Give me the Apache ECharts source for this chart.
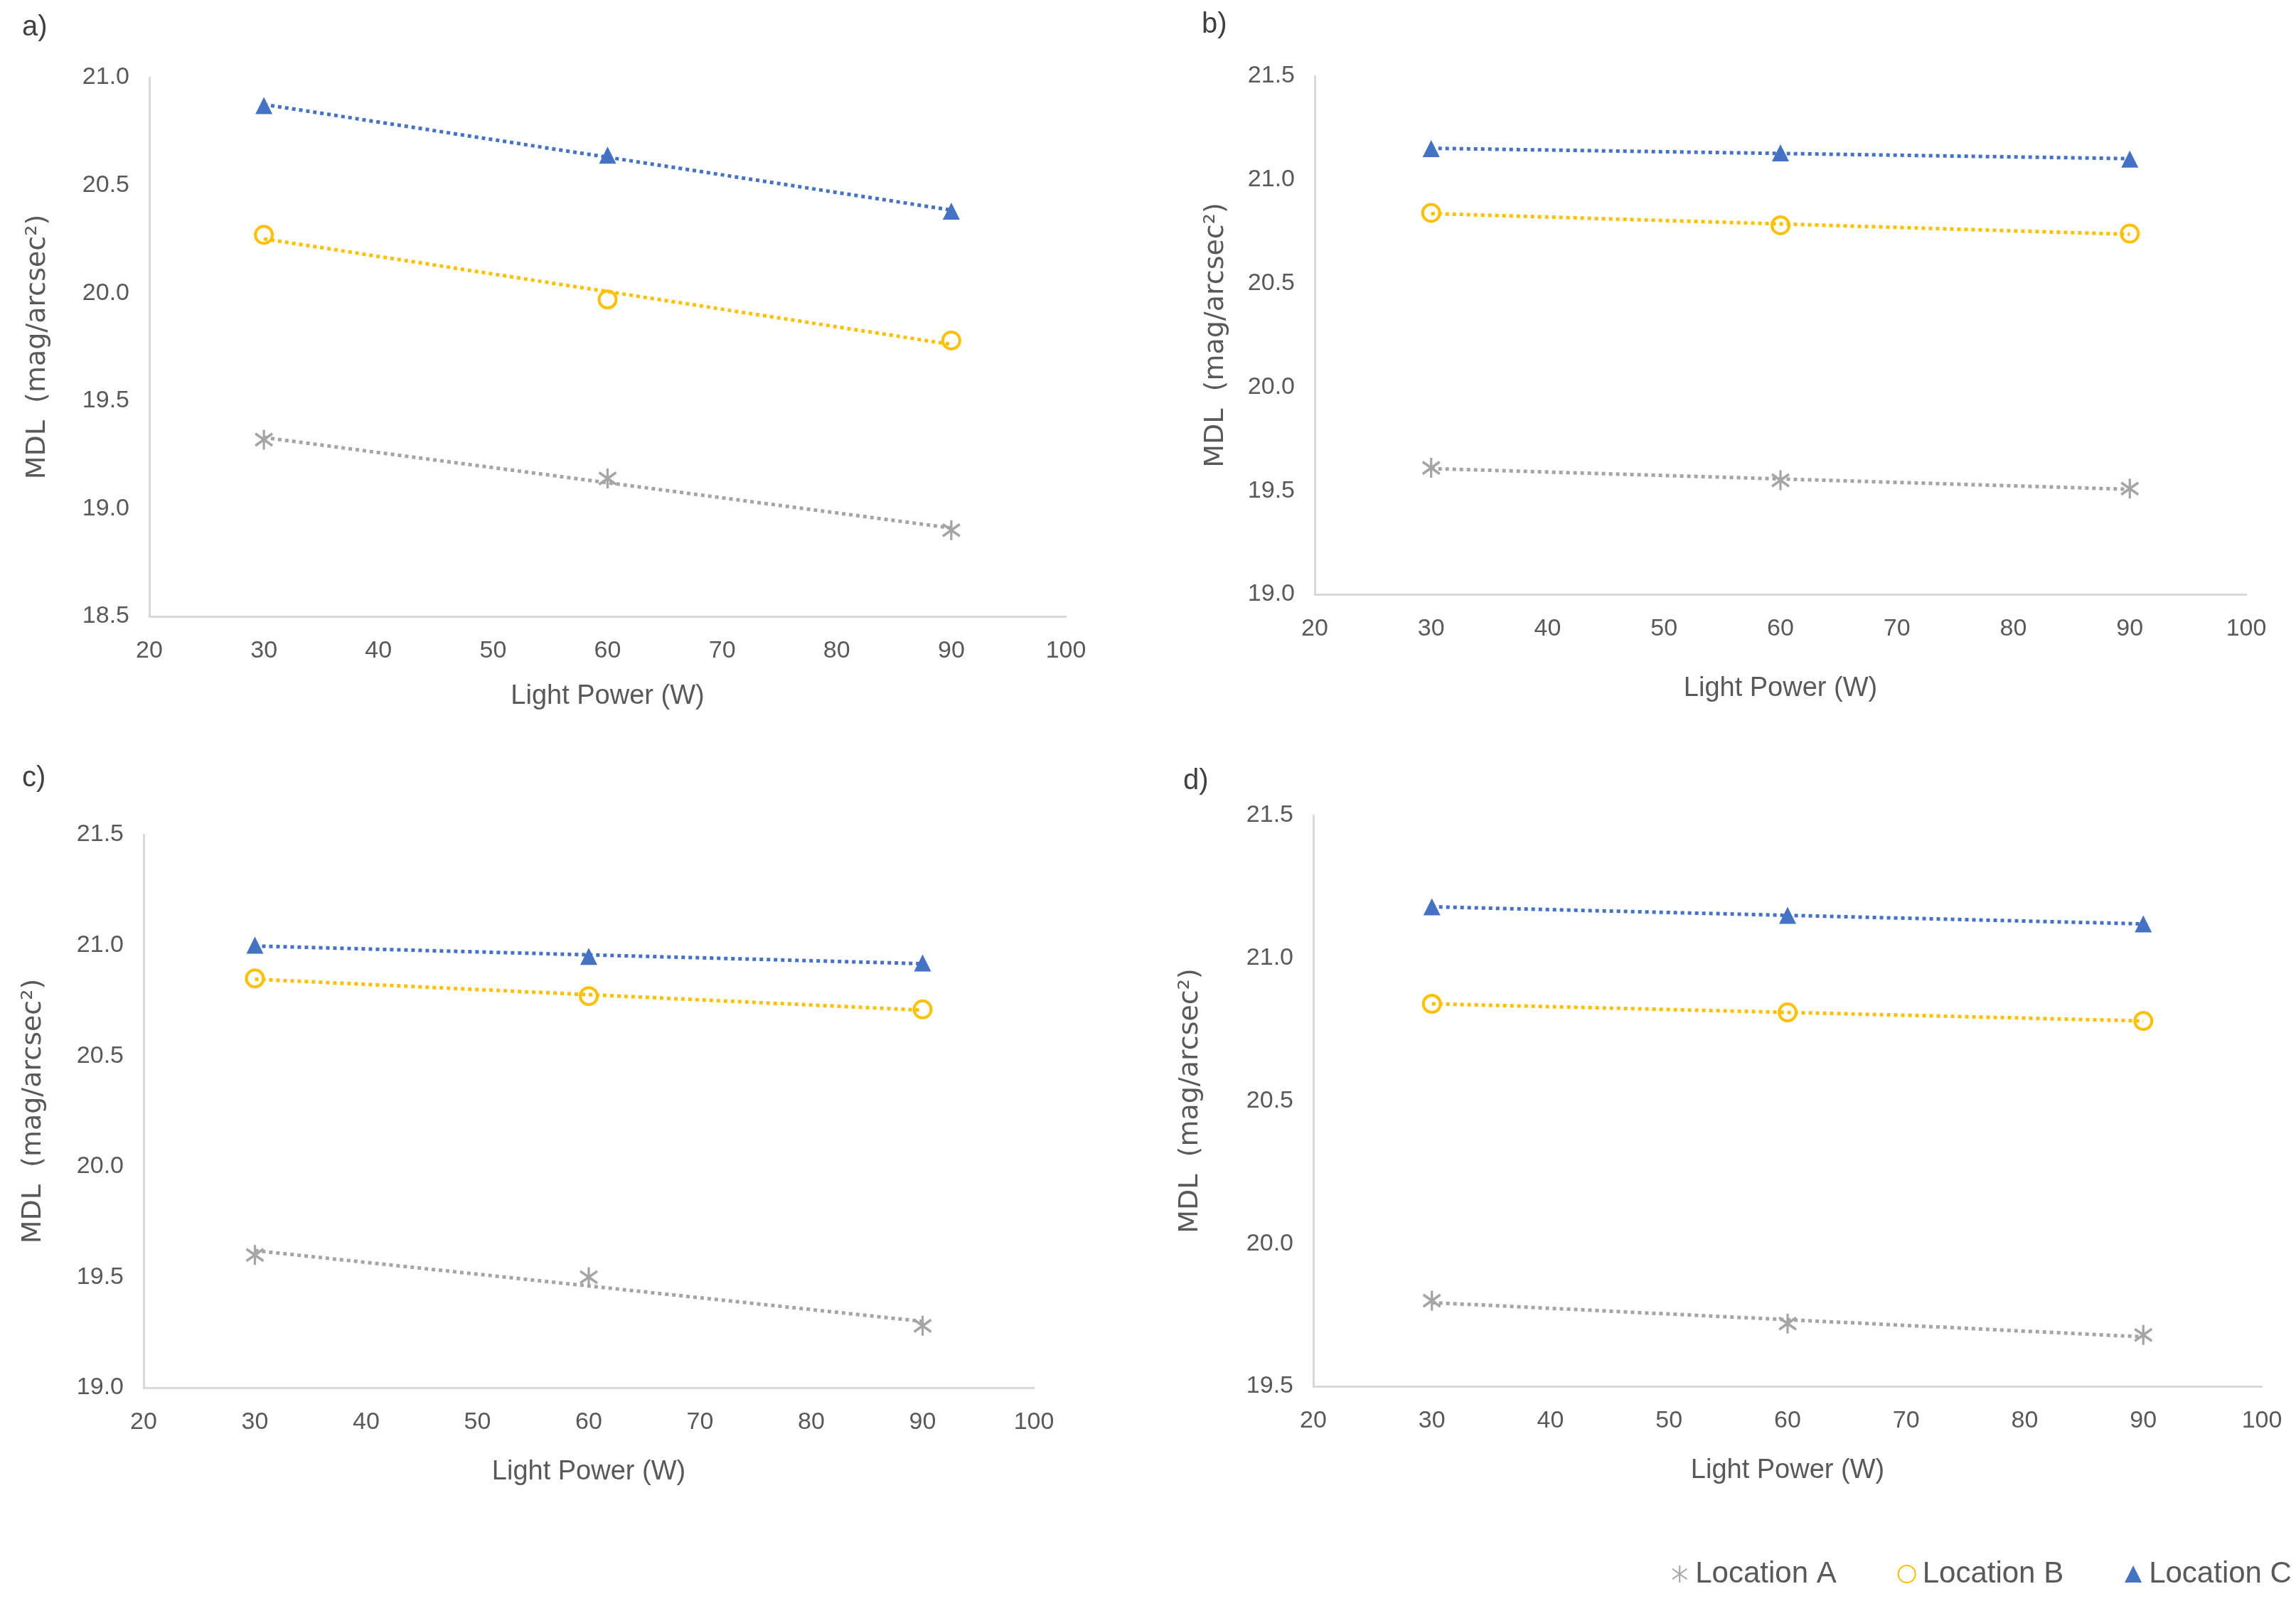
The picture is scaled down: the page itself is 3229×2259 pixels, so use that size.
<!DOCTYPE html>
<html>
<head>
<meta charset="utf-8">
<script src="https://cdn.jsdelivr.net/npm/echarts@6/dist/echarts.min.js"></script>
<style>
html,body{margin:0;padding:0;background:#fff;}
#main{width:3229px;height:2259px;}
</style>
</head>
<body>
<div id="main"></div>
<script>
// ---- data ----
const powers = [30, 60, 90];
const seriesNames = ['Location A', 'Location B', 'Location C'];
const xTicks = [20, 30, 40, 50, 60, 70, 80, 90, 100];

const panelA_locA = [19.32, 19.14, 18.90];
const panelA_locB = [20.27, 19.97, 19.78];
const panelA_locC = [20.87, 20.64, 20.38];

const panelB_locA = [19.61, 19.55, 19.51];
const panelB_locB = [20.84, 20.78, 20.74];
const panelB_locC = [21.15, 21.13, 21.10];

const panelC_locA = [19.60, 19.50, 19.28];
const panelC_locB = [20.85, 20.77, 20.71];
const panelC_locC = [21.00, 20.95, 20.92];

const panelD_locA = [19.80, 19.72, 19.68];
const panelD_locB = [20.84, 20.81, 20.78];
const panelD_locC = [21.18, 21.15, 21.12];

const panelLabels = ['a)', 'b)', 'c)', 'd)'];
const yRanges = [[18.5, 21.0], [19.0, 21.5], [19.0, 21.5], [19.5, 21.5]];

// ---- styling / layout ----
const colors = ['#A5A5A5', '#FFC000', '#4472C4'];
const txt = '#595959';
const narrow = '"Liberation Sans Narrow", "Liberation Sans", Arial, sans-serif';
const asterisk = 'path://M10,0 L10,20 M1.5,4 L18.5,16 M1.5,16 L18.5,4';
const symbols = [asterisk, 'circle', 'triangle'];

const grids = [
  {left: 210, top: 109, width: 1289, height: 758},
  {left: 1849, top: 107, width: 1310, height: 729},
  {left: 202, top: 1174, width: 1252, height: 778},
  {left: 1847, top: 1147, width: 1334, height: 803}
];
const yNameGaps = [138, 120, 136, 154];
const xNameGaps = [94, 114, 100, 100];

const panels = [
  [panelA_locA, panelA_locB, panelA_locC],
  [panelB_locA, panelB_locB, panelB_locC],
  [panelC_locA, panelC_locB, panelC_locC],
  [panelD_locA, panelD_locB, panelD_locC]
];

function fitLine(xs, ys) {
  const n = xs.length;
  const mx = xs.reduce((a, b) => a + b, 0) / n;
  const my = ys.reduce((a, b) => a + b, 0) / n;
  let sxy = 0, sxx = 0;
  for (let i = 0; i < n; i++) { sxy += (xs[i] - mx) * (ys[i] - my); sxx += (xs[i] - mx) ** 2; }
  const k = sxy / sxx;
  const x0 = xs[0], x1 = xs[n - 1];
  return [[x0, my + k * (x0 - mx)], [x1, my + k * (x1 - mx)]];
}

const xAxes = [], yAxes = [], series = [];
grids.forEach((g, i) => {
  xAxes.push({
    gridIndex: i, type: 'value', min: xTicks[0], max: xTicks[xTicks.length - 1], interval: 10,
    name: 'Light Power (W)', nameLocation: 'middle', nameGap: xNameGaps[i],
    nameTextStyle: {fontSize: 38, color: txt, fontFamily: narrow},
    axisLine: {show: true, lineStyle: {color: '#D9D9D9', width: 3}},
    axisTick: {show: false}, splitLine: {show: false},
    axisLabel: {fontSize: 34, color: txt, fontFamily: narrow, margin: 32}
  });
  yAxes.push({
    gridIndex: i, type: 'value', min: yRanges[i][0], max: yRanges[i][1], interval: 0.5,
    name: 'MDL  (mag/arcsec\u00B2)', nameLocation: 'middle', nameGap: yNameGaps[i],
    nameTextStyle: {fontSize: 38, color: txt, fontFamily: '"DejaVu Sans", sans-serif'},
    axisLine: {show: true, lineStyle: {color: '#D9D9D9', width: 3}},
    axisTick: {show: false}, splitLine: {show: false},
    axisLabel: {fontSize: 34, color: txt, fontFamily: narrow, margin: 28,
      formatter: v => v.toFixed(1)}
  });
  panels[i].forEach((vals, s) => {
    series.push({
      type: 'line', xAxisIndex: i, yAxisIndex: i, silent: true,
      data: fitLine(powers, vals), symbol: 'none', z: 2,
      lineStyle: {color: colors[s], width: 5, type: [5, 5]}
    });
  });
  panels[i].forEach((vals, s) => {
    const isAst = s === 0, isCirc = s === 1;
    series.push({
      name: seriesNames[s], type: 'scatter', xAxisIndex: i, yAxisIndex: i, z: 3,
      data: powers.map((p, k) => [p, vals[k]]),
      symbol: symbols[s], symbolSize: isAst ? [24, 28] : (isCirc ? 24 : 24),
      itemStyle: isAst ? {color: 'rgba(0,0,0,0)', borderColor: colors[0], borderWidth: 3.5, opacity: 1}
        : isCirc ? {color: 'rgba(0,0,0,0)', borderColor: colors[1], borderWidth: 4, opacity: 1}
        : {color: colors[2], opacity: 1}
    });
  });
});

const graphics = [
  {pos: [31, 41]}, {pos: [1690, 37]}, {pos: [31, 1097]}, {pos: [1664, 1101]}
].map((p, i) => ({
  type: 'text', left: p.pos[0], top: p.pos[1] - 22,
  style: {text: panelLabels[i], fontSize: 40, fill: '#404040', fontFamily: narrow}
}));

const chart = echarts.init(document.getElementById('main'));
chart.setOption({
  animation: false,
  backgroundColor: '#fff',
  grid: grids,
  xAxis: xAxes,
  yAxis: yAxes,
  series: series,
  graphic: graphics,
  legend: {
    data: seriesNames, left: 2346, top: 2188, width: 1200, itemWidth: 24, itemHeight: 24, itemGap: 86,
    textStyle: {fontSize: 42, color: txt, fontFamily: narrow, padding: [0, 0, 0, 5]}
  }
});
</script>
</body>
</html>
